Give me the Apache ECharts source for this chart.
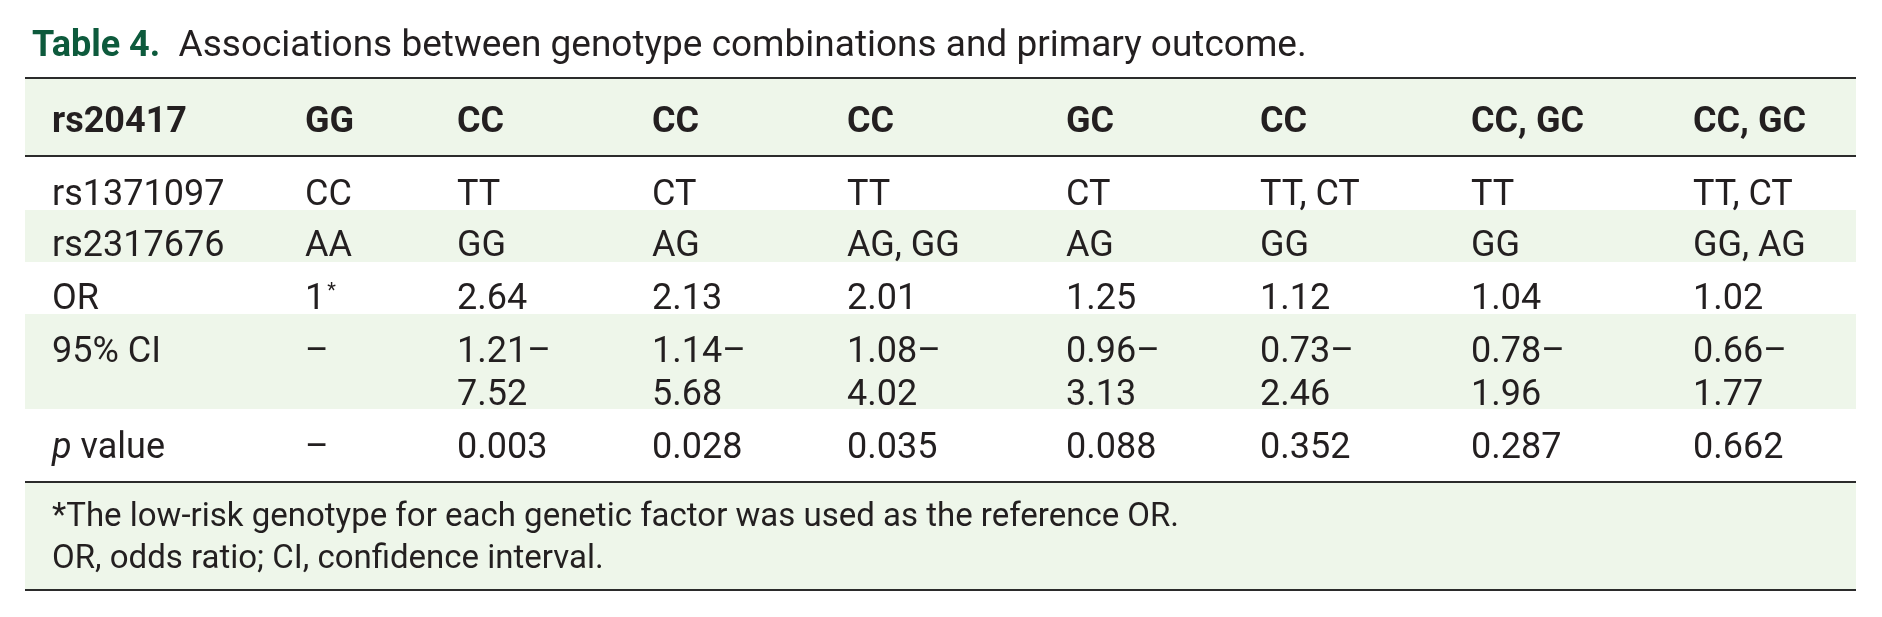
<!DOCTYPE html>
<html>
<head>
<meta charset="utf-8">
<title>Table 4</title>
<script src="https://cdn.jsdelivr.net/npm/echarts@6/dist/echarts.min.js"></script>
<style>
  html, body { margin: 0; padding: 0; background: #fff; }
  #main { width: 1882px; height: 617px; }
</style>
</head>
<body>
<div id="main"></div>
<script>
// table data
var headerLabel = 'rs20417';
var rs20417 = ['GG', 'CC', 'CC', 'CC', 'GC', 'CC', 'CC, GC', 'CC, GC'];
var rowLabels = ['rs1371097', 'rs2317676', 'OR', '95% CI', 'p value'];
var rs1371097 = ['CC', 'TT', 'CT', 'TT', 'CT', 'TT, CT', 'TT', 'TT, CT'];
var rs2317676 = ['AA', 'GG', 'AG', 'AG, GG', 'AG', 'GG', 'GG', 'GG, AG'];
var orValues = ['1*', '2.64', '2.13', '2.01', '1.25', '1.12', '1.04', '1.02'];
var ciLow = [null, '1.21', '1.14', '1.08', '0.96', '0.73', '0.78', '0.66'];
var ciHigh = [null, '7.52', '5.68', '4.02', '3.13', '2.46', '1.96', '1.77'];
var pValues = ['–', '0.003', '0.028', '0.035', '0.088', '0.352', '0.287', '0.662'];
var footnotes = [
  '*The low-risk genotype for each genetic factor was used as the reference OR.',
  'OR, odds ratio; CI, confidence interval.'
];

// layout (pixels)
var W = 1882, H = 617;
var tableLeft = 25, tableRight = 1856;
var colX = [52, 305, 457, 652, 847, 1066, 1260, 1471, 1693];
var headerY = 123;
var rowY = [196, 247, 300, 353, 449];   // centre of first text line in each row
var footY = [518, 560];
var LINE_H = 43;
// [top, bottom] of shaded bands
var bands = [[78, 156], [210, 262], [314, 409], [482, 590]];
// horizontal rules: [y, width]
var rules = [[78, 2], [156, 2], [482, 2], [590, 2]];

var FONT = 'Roboto, "Noto Sans", sans-serif';
var TEXT = '#231f20';
var GREEN_BG = '#eef6ea';

// build cell list: [x, y, text, kind]
var cells = [];
cells.push([colX[0], headerY, headerLabel, 'head']);
rs20417.forEach(function (v, i) { cells.push([colX[i + 1], headerY, v, 'head']); });
var bodyRows = [
  rs1371097,
  rs2317676,
  orValues,
  ciLow.map(function (lo, i) { return lo == null ? '–' : lo + '–\n' + ciHigh[i]; }),
  pValues
];
rowLabels.forEach(function (lab, r) {
  cells.push([colX[0], rowY[r], lab, 'label']);
  bodyRows[r].forEach(function (v, i) { cells.push([colX[i + 1], rowY[r], v, 'body']); });
});
footnotes.forEach(function (t, i) { cells.push([colX[0], footY[i], t, 'foot']); });

function richText(text) {
  if (text === 'p value') return '{i|p} value';
  if (/\*$/.test(text) && text.length > 1) return text.slice(0, -1) + '{sup|*}';
  return text;
}

var myChart = echarts.init(document.getElementById('main'), null, { renderer: 'canvas' });

var option = {
  backgroundColor: '#fff',
  animation: false,
  title: {
    left: 27,
    top: 22,
    text: '{b|Table 4.}  Associations between genotype combinations and primary outcome.',
    textStyle: {
      fontFamily: FONT,
      fontSize: 37,
      fontWeight: 'normal',
      color: TEXT,
      lineHeight: 40,
      rich: {
        b: { fontFamily: FONT, fontSize: 36, fontWeight: 'bold', color: '#0d5a3c', lineHeight: 40 }
      }
    }
  },
  grid: { left: 0, right: 0, top: 0, bottom: 0 },
  xAxis: { type: 'value', min: 0, max: W, show: false },
  yAxis: { type: 'value', min: 0, max: H, inverse: true, show: false },
  series: [
    {
      // shaded rows
      type: 'custom',
      silent: true,
      data: bands,
      renderItem: function (params, api) {
        var p0 = api.coord([tableLeft, api.value(0)]);
        var p1 = api.coord([tableRight, api.value(1)]);
        return {
          type: 'rect',
          shape: { x: p0[0], y: p0[1], width: p1[0] - p0[0], height: p1[1] - p0[1] },
          style: { fill: GREEN_BG }
        };
      },
      z: 1
    },
    {
      // rules
      type: 'custom',
      silent: true,
      data: rules,
      renderItem: function (params, api) {
        var p0 = api.coord([tableLeft, api.value(0)]);
        var p1 = api.coord([tableRight, api.value(0)]);
        return {
          type: 'line',
          shape: { x1: p0[0], y1: p0[1], x2: p1[0], y2: p1[1] },
          style: { stroke: '#2b2b2b', lineWidth: api.value(1) }
        };
      },
      z: 3
    },
    {
      // cell texts
      type: 'custom',
      silent: true,
      data: cells,
      renderItem: function (params, api) {
        var d = cells[params.dataIndex];
        var lines = String(d[2]).split('\n').length;
        var p = api.coord([d[0], d[1] + (lines - 1) * LINE_H / 2]);
        var kind = d[3];
        var size = kind === 'foot' ? 33 : 36;
        return {
          type: 'text',
          x: p[0],
          y: p[1],
          style: {
            text: richText(d[2]),
            fill: TEXT,
            fontFamily: FONT,
            fontSize: size,
            fontWeight: kind === 'head' ? 'bold' : 'normal',
            lineHeight: LINE_H,
            align: 'left',
            verticalAlign: 'middle',
            rich: {
              i: { fontFamily: FONT, fontSize: size, fontStyle: 'italic', fill: TEXT },
              sup: { fontFamily: FONT, fontSize: 20, fill: TEXT, padding: [0, 0, 16, 2] }
            }
          }
        };
      },
      z: 4
    }
  ]
};

myChart.setOption(option);
</script>
</body>
</html>
